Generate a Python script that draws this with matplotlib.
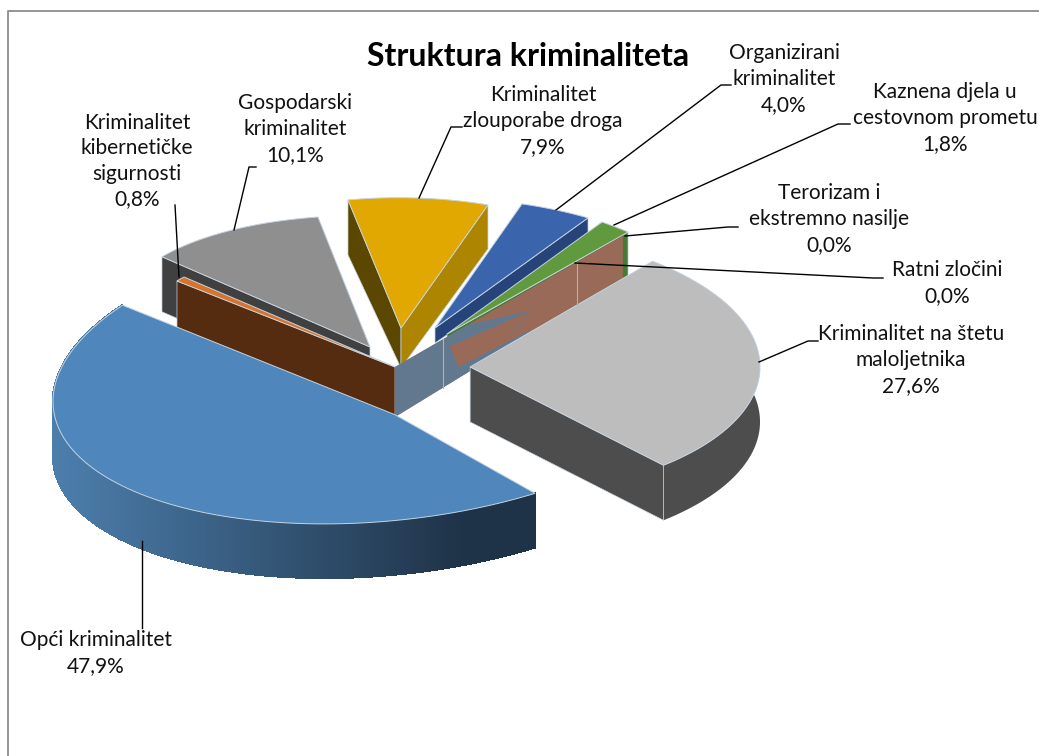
import numpy as np
import matplotlib
matplotlib.use('Agg')
import matplotlib.pyplot as plt
from matplotlib.patches import Polygon

plt.rcParams['font.family'] = ['Lato', 'DejaVu Sans']

labels = ['Opći kriminalitet', 'Kriminalitet\nkibernetičke\nsigurnosti', 'Gospodarski\nkriminalitet',
          'Kriminalitet\nzlouporabe droga', 'Organizirani\nkriminalitet', 'Kaznena djela u\ncestovnom prometu',
          'Terorizam i\nekstremno nasilje', 'Ratni zločini', 'Kriminalitet na štetu\nmaloljetnika']
shares = [47.9, 0.8, 10.1, 7.9, 4.0, 1.8, 0.0, 0.0, 27.6]
keys = ['opci', 'cyber', 'gosp', 'droga', 'org', 'cest', 'tero', 'ratni', 'malo']

total = sum(shares)
edges = np.cumsum([0] + shares) / total * 2 * np.pi
ang = {k: (edges[i], edges[i + 1]) for i, k in enumerate(keys)}

# perspective of each exploded slice, disc of radius 1 -> picture pixels
P = {
    'opci': [2.7419, -2.1345, 3.9477, 2.0218, 1.5494, 4.1464, 0.2503, 0.1373],
    'gosp': [2.1418, -1.3366, 3.7000, 1.2733, 1.2056, 3.4700, 0.1182, 0.1737],
    'droga': [2.1355, -1.8030, 4.0100, 1.1676, 0.9309, 3.2800, 0.0970, 0.0342],
    'org': [2.1911, -2.0669, 4.3500, 1.0756, 0.8927, 3.2800, 0.0551, 0.0083],
    'cest': [2.0635, -2.1783, 4.4700, 1.1622, 0.8411, 3.3400, 0.0294, -0.0060],
    'cyber': [1.9052, -1.7075, 3.9500, 0.8609, 0.6897, 3.6700, -0.0377, -0.0146],
    'tero': [2.0231, -2.3241, 3.9500, 1.2784, 1.2434, 3.6700, -0.0351, 0.0562],
    'malo': [2.1046, -2.0580, 4.7014, 1.1027, 0.9441, 3.6696, 0.0257, 0.0162],
}


def project(q, x, y):
    w = q[6] * x + q[7] * y + 1
    return (q[0] * x + q[1] * y + q[2]) * 100 / w, (q[3] * x + q[4] * y + q[5]) * 100 / w


fig = plt.figure(figsize=(10.39, 7.56), dpi=100)
ax = fig.add_axes([0, 0, 1, 1])
ax.set_xlim(0, 1039)
ax.set_ylim(756, 0)
ax.axis('off')
ax.plot([7.5, 7.5, 1039], [756, 10.5, 10.5], color='#8c8c8c', lw=1.3)

TOP = {'opci': '#4f86bc', 'cyber': '#d8732c', 'gosp': '#8f8f8f', 'droga': '#e0a800', 'org': '#3a64ac',
       'cest': '#619a3e', 'malo': '#bdbdbd'}
EDGE = '#c5d3e0'


def top(k):
    t = np.linspace(ang[k][0], ang[k][1], 100)
    x, y = project(P[k], np.cos(t), np.sin(t))
    x0, y0 = project(P[k], 0, 0)
    ax.add_patch(Polygon(np.c_[np.r_[x0, x], np.r_[y0, y]], fc=TOP[k], ec=EDGE, lw=0.7))


def cut_wall(k, a, h_rim, h_apex, color):
    x0, y0 = project(P[k], 0, 0)
    x1, y1 = project(P[k], np.cos(a), np.sin(a))
    ax.add_patch(Polygon([(x0, y0), (x1, y1), (x1, y1 + h_rim), (x0, y0 + h_apex)], fc=color, ec=EDGE, lw=0.5))


def outer_wall(k, h, color):
    t = np.linspace(ang[k][0], ang[k][1], 100)
    x, y = project(P[k], np.cos(t), np.sin(t))
    ax.add_patch(Polygon(np.c_[np.r_[x, x[::-1]], np.r_[y, y[::-1] + h]], fc=color, ec='none'))


cut_wall('gosp', ang['gosp'][0], 55, 55, '#404040')
top('gosp')
cut_wall('cyber', ang['cyber'][0], 55, 55, '#552c10')
top('cyber')
cut_wall('droga', ang['droga'][0], 55, 40, '#5c4700')
cut_wall('droga', ang['droga'][1], 44, 40, '#ae8500')
top('droga')
cut_wall('org', ang['org'][1], 21, 15, '#27447a')
top('org')
cut_wall('cest', ang['cest'][1], 45, 40, '#477a36')
top('cest')

# the two empty slices only leave a wall, salmon with steel showing through
a_zero = ang['tero'][0]
x0, y0 = project(P['tero'], 0, 0)
x1, y1 = project(P['tero'], np.cos(a_zero), np.sin(a_zero))
H_APEX, H_RIM = 50, 42


def wp(t, f):
    return (x0 + (x1 - x0) * t, y0 + (y1 - y0) * t + f * (H_APEX + (H_RIM - H_APEX) * t))


ax.add_patch(Polygon([wp(0, 0), wp(1, 0), wp(1, 1), wp(0, 1)], fc='#9a6a58', ec='none'))
for poly in ([(0, 0), (.21, 0), (.21, 1), (0, 1)],
             [(.21, 0), (.32, 0), (.6, .49), (.24, .23)],
             [(.6, .49), (.495, .79), (.556, .65)],
             [(.21, 0), (.24, .23), (.28, .77), (.59, .91), (.6, 1), (.21, 1)]):
    ax.add_patch(Polygon([wp(*v) for v in poly], fc='#62788f', ec='none'))
for t in (.21, .8):
    ax.plot(*zip(wp(t, 0), wp(t, 1)), color='#a9b4bf', lw=0.8)

outer_wall('malo', 55, '#4d4d4d')
cut_wall('malo', ang['malo'][1], 55, 55, '#4d4d4d')
top('malo')

# front wall of the big slice gets darker to the right
t = np.linspace(ang['opci'][0], ang['opci'][1], 160)
x, y = project(P['opci'], np.cos(t), np.sin(t))
for i in range(len(t) - 1):
    f = np.clip((0.5 * (x[i] + x[i + 1]) - 55) / 405, 0, 1)
    c = (1 - f) * np.array([0x4c, 0x7e, 0xac]) / 255 + f * np.array([0x1f, 0x33, 0x48]) / 255
    ax.add_patch(Polygon([(x[i], y[i]), (x[i + 1], y[i + 1]), (x[i + 1], y[i + 1] + 54), (x[i], y[i] + 54)],
                         fc=c, ec=c, lw=1.0, antialiased=False))
top('opci')

leaders = [[(142, 541), (142, 628)], [(175, 205), (179, 277)], [(234, 230), (249, 167), (256, 167)],
           [(419, 198), (451, 127), (462, 127)], [(556, 210), (721, 85), (731, 85)],
           [(614, 225), (838, 124), (850, 124)], [(625, 236), (728, 227), (738, 227)],
           [(575, 263), (873, 278), (883, 278)], [(759, 362), (808, 341), (818, 341)]]
for line in leaders:
    ax.plot(*zip(*line), color='black', lw=1.0)

label_pos = [(96, 653), (137, 161), (295, 129), (543, 121), (784, 79), (945, 118), (829, 219), (947, 283), (911, 360)]
for lab, val, (cx, cy) in zip(labels, shares, label_pos):
    txt = lab + '\n' + f'{val:.1f}'.replace('.', ',') + '%'
    ax.text(cx, cy, txt, ha='center', va='center', fontsize=15, linespacing=1.35, color='#111111')
ax.text(528, 56, 'Struktura kriminaliteta', ha='center', va='center', fontsize=23, fontweight='bold', color='black')

fig.savefig('out.png', dpi=100)
